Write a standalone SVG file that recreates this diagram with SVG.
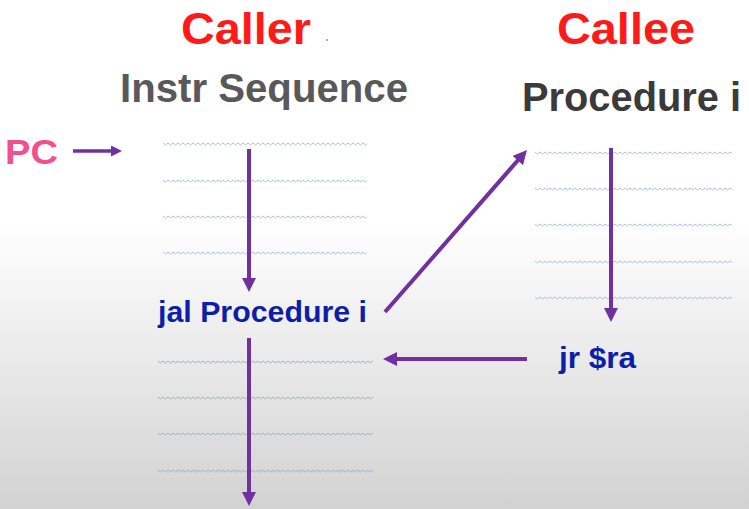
<svg xmlns="http://www.w3.org/2000/svg" width="749" height="509" viewBox="0 0 749 509">
  <style>
    .title { font-family: "Liberation Sans", Arial, sans-serif; font-weight: bold; font-size: 45px; fill: #ff1a1a; }
    .head { font-family: "Liberation Sans", Arial, sans-serif; font-weight: bold; font-size: 40px; }
    .instr { font-family: "Liberation Sans", Arial, sans-serif; font-weight: bold; font-size: 30px; fill: #0d1eaa; }
    .pc { font-family: "Liberation Sans", Arial, sans-serif; font-weight: bold; font-size: 35px; fill: #f0508c; }
    .conn { stroke: #7030a0; stroke-width: 4; fill: none; marker-end: url(#head); }
    .wave-top { fill: url(#waveBlue); }
    .wave-low { fill: url(#waveGray); }
  </style>
  <defs>
    <linearGradient id="bg" x1="0" y1="0" x2="0" y2="1">
      <stop offset="0" stop-color="#ffffff"/>
      <stop offset="0.44" stop-color="#ffffff"/>
      <stop offset="1" stop-color="#d2d2d2"/>
    </linearGradient>
    <pattern id="waveBlue" width="5" height="4" patternUnits="userSpaceOnUse">
      <path d="M0,1 L2.5,3 L5,1" stroke="#a9c2e3" stroke-width="1" fill="none"/>
    </pattern>
    <pattern id="waveGray" width="5" height="4" patternUnits="userSpaceOnUse">
      <path d="M0,1 L2.5,3 L5,1" stroke="#a2adc0" stroke-width="1" fill="none"/>
    </pattern>
    <marker id="head" viewBox="0 0 14 14" markerWidth="14" markerHeight="14" refX="6" refY="7" orient="auto" markerUnits="userSpaceOnUse">
      <path d="M0,0 L14,7 L0,14 Z" fill="#7030a0"/>
    </marker>
    <marker id="headSmall" viewBox="0 0 11 11" markerWidth="11" markerHeight="11" refX="5" refY="5.5" orient="auto" markerUnits="userSpaceOnUse">
      <path d="M0,0 L11,5.5 L0,11 Z" fill="#7030a0"/>
    </marker>
  </defs>

  <rect x="0" y="0" width="749" height="509" fill="url(#bg)"/>

  <g id="caller-title">
    <text class="title" x="181" y="44" textLength="130" lengthAdjust="spacingAndGlyphs">Caller</text>
    <circle cx="327" cy="40" r="1" fill="#999"/>
  </g>
  <g id="callee-title">
    <text class="title" x="557" y="44" textLength="138" lengthAdjust="spacingAndGlyphs">Callee</text>
  </g>
  <g id="instr-sequence-heading">
    <text class="head" x="120" y="102" fill="#595959" textLength="288" lengthAdjust="spacingAndGlyphs">Instr Sequence</text>
  </g>
  <g id="procedure-heading">
    <text class="head" x="522" y="111" fill="#3a3a3a" textLength="219" lengthAdjust="spacingAndGlyphs">Procedure i</text>
  </g>
  <g id="pc">
    <text class="pc" x="5" y="164" textLength="53" lengthAdjust="spacingAndGlyphs">PC</text>
  </g>

  <g id="caller-before">
    <rect class="wave-top" x="0" y="0" width="204" height="4" transform="translate(163,142)"/>
    <rect class="wave-top" x="0" y="0" width="204" height="4" transform="translate(163,179)"/>
    <rect class="wave-top" x="0" y="0" width="204" height="4" transform="translate(163,215)"/>
    <rect class="wave-top" x="0" y="0" width="204" height="4" transform="translate(163,251)"/>
  </g>
  <g id="jal">
    <text class="instr" x="158" y="322" textLength="209" lengthAdjust="spacingAndGlyphs">jal Procedure i</text>
  </g>
  <g id="caller-after">
    <rect class="wave-low" x="0" y="0" width="215" height="4" transform="translate(158,360)"/>
    <rect class="wave-low" x="0" y="0" width="215" height="4" transform="translate(158,396)"/>
    <rect class="wave-low" x="0" y="0" width="215" height="4" transform="translate(158,432)"/>
    <rect class="wave-low" x="0" y="0" width="215" height="4" transform="translate(158,469)"/>
  </g>
  <g id="callee-body">
    <rect class="wave-top" x="0" y="0" width="197" height="4" transform="translate(535,151)"/>
    <rect class="wave-top" x="0" y="0" width="197" height="4" transform="translate(535,187)"/>
    <rect class="wave-top" x="0" y="0" width="197" height="4" transform="translate(535,223)"/>
    <rect class="wave-top" x="0" y="0" width="197" height="4" transform="translate(535,260)"/>
    <rect class="wave-top" x="0" y="0" width="197" height="4" transform="translate(535,296)"/>
  </g>
  <g id="jr">
    <text class="instr" x="559" y="368" textLength="77" lengthAdjust="spacingAndGlyphs">jr $ra</text>
  </g>

  <g id="connectors">
    <line x1="73" y1="151" x2="116" y2="151" stroke="#7030a0" stroke-width="3.5" marker-end="url(#headSmall)"/>
    <line class="conn" x1="249" y1="149" x2="249" y2="284"/>
    <line class="conn" x1="249" y1="338" x2="249" y2="498"/>
    <line class="conn" x1="385" y1="312" x2="521.7" y2="156"/>
    <line class="conn" x1="611" y1="148" x2="611" y2="314"/>
    <line class="conn" x1="527" y1="359" x2="391" y2="359"/>
  </g>
</svg>
